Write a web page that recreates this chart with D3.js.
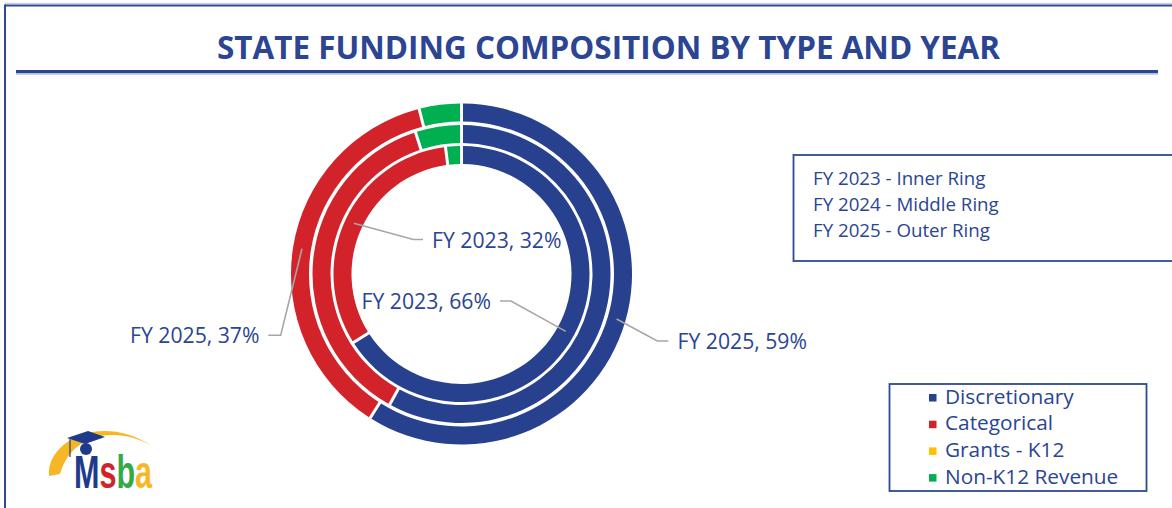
<!DOCTYPE html>
<html>
<head>
<meta charset="utf-8">
<script src="https://cdn.jsdelivr.net/npm/d3@7"></script>
<style>
  html, body { margin: 0; padding: 0; background: #ffffff; }
  svg { display: block; }
  text { font-family: "Open Sans", sans-serif; }
</style>
</head>
<body>
<svg id="chart" width="1172" height="508"></svg>
<script>
// ---------------- DATA ----------------
const categories = ["Discretionary", "Categorical", "Grants - K12", "Non-K12 Revenue"];
const years = ["2023", "2024", "2025"];           // inner -> outer ring
const fy2023 = [66, 32, 0, 2];
const fy2024 = [58, 37, 0, 5];
const fy2025 = [59, 37, 0, 4];
const ringLegend = ["FY 2023 - Inner Ring", "FY 2024 - Middle Ring", "FY 2025 - Outer Ring"];
const title = "STATE FUNDING COMPOSITION BY TYPE AND YEAR";
// labelled slices: [ring index, category index]
const labelled = [[0, 1], [0, 0], [2, 0], [2, 1]];

// ---------------- STYLE / LAYOUT ----------------
const colors = ["#27418F", "#D2232A", "#FFC000", "#00B050"];
const textBlue = "#2A4594";
const svg = d3.select("#chart");
const W = 1172, H = 508;
const cx = 461.5, cy = 274;
const ringRadii = [[110, 128], [131, 149], [152.5, 170.5]];

// frame
svg.append("line").attr("x1", 5).attr("y1", 3.5).attr("x2", W).attr("y2", 3.5)
  .attr("stroke", "#C9D1E8").attr("stroke-width", 1.5);
svg.append("line").attr("x1", 5).attr("y1", 5.5).attr("x2", W).attr("y2", 5.5)
  .attr("stroke", "#2E4A96").attr("stroke-width", 2);
svg.append("line").attr("x1", 5).attr("y1", 4.5).attr("x2", 5).attr("y2", H)
  .attr("stroke", "#2E4A96").attr("stroke-width", 2);

// title
svg.append("text")
  .attr("x", 608.5).attr("y", 58.5)
  .attr("text-anchor", "middle")
  .attr("font-size", 31.5).attr("font-weight", 700)
  .attr("fill", "#2B4593")
  .attr("textLength", 783).attr("lengthAdjust", "spacingAndGlyphs")
  .text(title);
svg.append("rect").attr("x", 16).attr("y", 70).attr("width", 1142).attr("height", 3.4).attr("fill", "#2B4593");
svg.append("rect").attr("x", 16).attr("y", 73.4).attr("width", 1142).attr("height", 1.4).attr("fill", "#B9C4E2");

// ---------------- RINGS ----------------
const ringData = [fy2023, fy2024, fy2025];
const pie = d3.pie().sort(null).value(d => d);
const g = svg.append("g").attr("transform", `translate(${cx},${cy})`);

const arcs = ringData.map((vals, ri) =>
  d3.arc().innerRadius(ringRadii[ri][0]).outerRadius(ringRadii[ri][1])
    .padAngle(0.03).padRadius(100));

const pies = ringData.map(vals => pie(vals));

pies.forEach((slices, ri) => {
  g.append("g").selectAll("path")
    .data(slices)
    .join("path")
    .attr("d", arcs[ri])
    .attr("fill", (d, i) => colors[i]);
});

// ---------------- SLICE LABELS ----------------
const labelLayout = [
  { anchor: "start", tx: 432, ty: 248, pts: [[423, 239.5], [413.3, 239.5]] },
  { anchor: "end", tx: 491, ty: 308.5, pts: [[500, 301], [511, 301]] },
  { anchor: "start", tx: 677.5, ty: 348.5, pts: [[668.3, 341], [657.3, 341]] },
  { anchor: "end", tx: 259.5, ty: 342.5, pts: [[268.3, 335.3], [280.7, 335.3]] }
];

labelled.forEach(([ri, ci], k) => {
  const L = labelLayout[k];
  const slice = pies[ri][ci];
  const c = arcs[ri].centroid(slice);
  const p0 = [cx + c[0], cy + c[1]];
  const pts = [...L.pts, p0];
  svg.append("path")
    .attr("d", d3.line()(pts))
    .attr("fill", "none")
    .attr("stroke", "#A6A6A6")
    .attr("stroke-width", 1.6);
  svg.append("text")
    .attr("x", L.tx).attr("y", L.ty)
    .attr("text-anchor", L.anchor)
    .attr("font-size", 21.2)
    .attr("fill", textBlue)
    .text(`FY ${years[ri]}, ${ringData[ri][ci]}%`);
});

// ---------------- RING LEGEND ----------------
svg.append("rect").attr("x", 793.5).attr("y", 155).attr("width", 400).attr("height", 106)
  .attr("fill", "none").attr("stroke", "#2E4A96").attr("stroke-width", 1.8);
svg.append("g").selectAll("text")
  .data(ringLegend)
  .join("text")
  .attr("x", 813).attr("y", (d, i) => 185 + i * 26)
  .attr("font-size", 18.7)
  .attr("fill", textBlue)
  .text(d => d);

// ---------------- CATEGORY LEGEND ----------------
svg.append("rect").attr("x", 889.5).attr("y", 384).attr("width", 257).attr("height", 107)
  .attr("fill", "none").attr("stroke", "#2E4A96").attr("stroke-width", 1.8);
const lg = svg.append("g").selectAll("g")
  .data(categories)
  .join("g")
  .attr("transform", (d, i) => `translate(0,${403.5 + i * 26.7})`);
lg.append("rect").attr("x", 929).attr("y", -9.5).attr("width", 7.5).attr("height", 7.5)
  .attr("fill", (d, i) => colors[i]);
lg.append("text").attr("x", 945).attr("y", 0)
  .attr("font-size", 20.8).attr("fill", textBlue)
  .text(d => d);

// ---------------- LOGO ----------------
const defs = svg.append("defs");
const grad = defs.append("linearGradient").attr("id", "logoGrad")
  .attr("gradientUnits", "userSpaceOnUse")
  .attr("x1", 74).attr("x2", 152).attr("y1", 0).attr("y2", 0);
const logoStops = [
  ["#1F3A8A", 0], ["#1F3A8A", 0.335], ["#D2232A", 0.335], ["#D2232A", 0.53],
  ["#35A84A", 0.53], ["#35A84A", 0.765], ["#F6B726", 0.765], ["#F6B726", 1]
];
grad.selectAll("stop").data(logoStops).join("stop")
  .attr("offset", d => d[1]).attr("stop-color", d => d[0]);

const logo = svg.append("g");
logo.append("path")
  .attr("d", "M49,476 C46,442 100,412 152,446 C118,426 72,432 60,474 Z")
  .attr("fill", "#F6B726");
logo.append("path").attr("d", "M67,438 L88,431 L105,437 L85,444 Z").attr("fill", "#1F3A8A");
logo.append("circle").attr("cx", 86).attr("cy", 449).attr("r", 6).attr("fill", "#1F3A8A");
logo.append("line").attr("x1", 70).attr("y1", 439).attr("x2", 70).attr("y2", 457)
  .attr("stroke", "#1F3A8A").attr("stroke-width", 1.2);
logo.append("text")
  .attr("x", 74).attr("y", 488)
  .style("font-family", "'Liberation Sans', sans-serif")
  .attr("font-weight", 700)
  .attr("font-size", 46)
  .attr("fill", "url(#logoGrad)")
  .attr("textLength", 78).attr("lengthAdjust", "spacingAndGlyphs")
  .text("Msba");
</script>
</body>
</html>
